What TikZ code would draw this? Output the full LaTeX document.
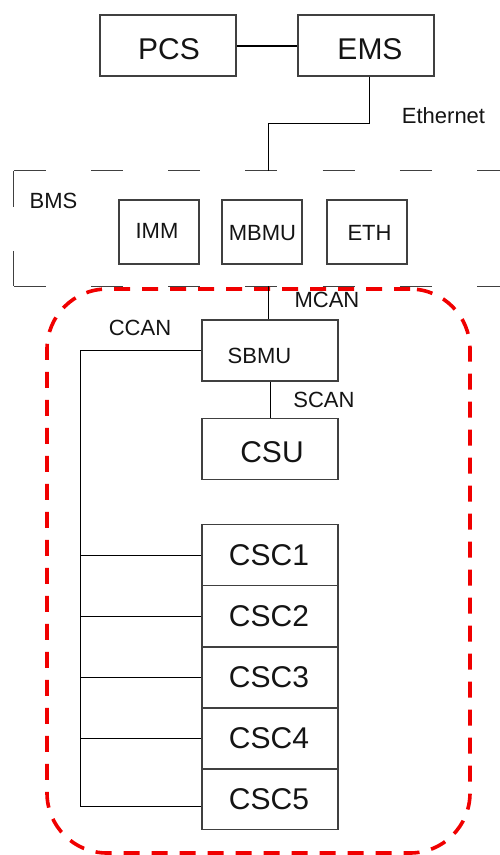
\documentclass[tikz,border=0pt]{standalone}
\usepackage{fontspec}
\setmainfont{Liberation Sans}
\definecolor{boxgray}{HTML}{404040}
\definecolor{txt}{HTML}{141414}
\definecolor{redline}{HTML}{F00000}
\begin{document}
\begin{tikzpicture}[x=1pt,y=-1pt]
\tikzset{
 box/.style={draw=boxgray, line width=1.2pt, inner sep=0pt, minimum width=136pt, minimum height=61pt},
 sbox/.style={box, minimum width=80pt, minimum height=64pt},
 big/.style={font=\fontsize{30}{36}\selectfont, inner sep=0pt, anchor=base, text=txt},
 small/.style={font=\fontsize{22}{26}\selectfont, inner sep=0pt, anchor=base, text=txt},
 wire/.style={line width=1pt, draw=black},
 bmsdash/.style={line width=1.2pt, draw=boxgray},
 reddash/.style={draw=redline, line width=3.6pt, dash pattern=on 16pt off 12pt, rounded corners=60pt, inner sep=0pt}
}
\useasboundingbox (0,0) rectangle (499,855);

% containers
\node[minimum width=508pt, minimum height=115pt, inner sep=0pt] (bms) at (268,228.5) {};
\node[reddash, minimum width=423pt, minimum height=564pt] (grp) at (258.5,571) {};

\draw[bmsdash, dash pattern=on 32pt off 45.2pt] (bms.north west) -- (bms.north east);
\draw[bmsdash, dash pattern=on 32pt off 45.2pt] (bms.south west) -- (bms.south east);
\draw[bmsdash, dash pattern=on 36pt off 44pt] (bms.north west) -- (bms.south west);

% boxes
\node[box] (pcs) at (168,45.5) {};
\node[box] (ems) at (366,45.5) {};
\node[sbox] (imm) at (159,232) {};
\node[sbox] (mbmu) at (262,232) {};
\node[sbox] (eth) at (367,232) {};
\node[box] (sbmu) at (270,350.5) {};
\node[box] (csu) at (270,449) {};
\node[box] (csc1) at (270,555) {};
\node[box] (csc2) at (270,616) {};
\node[box] (csc3) at (270,677.5) {};
\node[box] (csc4) at (270,738.5) {};
\node[box] (csc5) at (270,799) {};

% texts
\node[big] (tpcs) at (169,59.5) {PCS};
\node[big] (tems) at (370,59.5) {EMS};
\node[small] (teth) at (443.5,123.5) {Ethernet};
\node[small] (tbms) at (53.5,208.5) {BMS};
\node[small] (timm) at (157,238.5) {IMM};
\node[small] (tmbmu) at (262.5,240.5) {MBMU};
\node[small] (tethb) at (369.5,240.5) {ETH};
\node[small] (tmcan) at (327,307.5) {MCAN};
\node[small] (tccan) at (140,335.5) {CCAN};
\node[small] (tsbmu) at (259.5,363.5) {SBMU};
\node[small] (tscan) at (324,407.5) {SCAN};
\node[big] (tcsu) at (272,462.5) {CSU};
\node[big] (tc1) at (269,565.5) {CSC1};
\node[big] (tc2) at (269,626.5) {CSC2};
\node[big] (tc3) at (269,687) {CSC3};
\node[big] (tc4) at (269,748.5) {CSC4};
\node[big] (tc5) at (269,809.5) {CSC5};

% connectors
\draw[line width=2pt] (pcs.east) -- (ems.west);
\coordinate (e1) at (369,123);
\draw[wire] ([xshift=3pt]ems.south) -- (e1) -| (bms.north);
\draw[wire] (bms.south) -- (bms.south |- sbmu.north);
\draw[wire] (sbmu.south) -- (csu.north);
\coordinate (cb) at (80,806);
\draw[wire] (sbmu.west) -| (cb) -- (cb -| csc5.west);
\draw[wire] (csc1.west) -- (csc1.west -| cb);
\draw[wire] (csc2.west) -- (csc2.west -| cb);
\draw[wire] (csc3.west) -- (csc3.west -| cb);
\draw[wire] (csc4.west) -- (csc4.west -| cb);
\end{tikzpicture}
\end{document}
